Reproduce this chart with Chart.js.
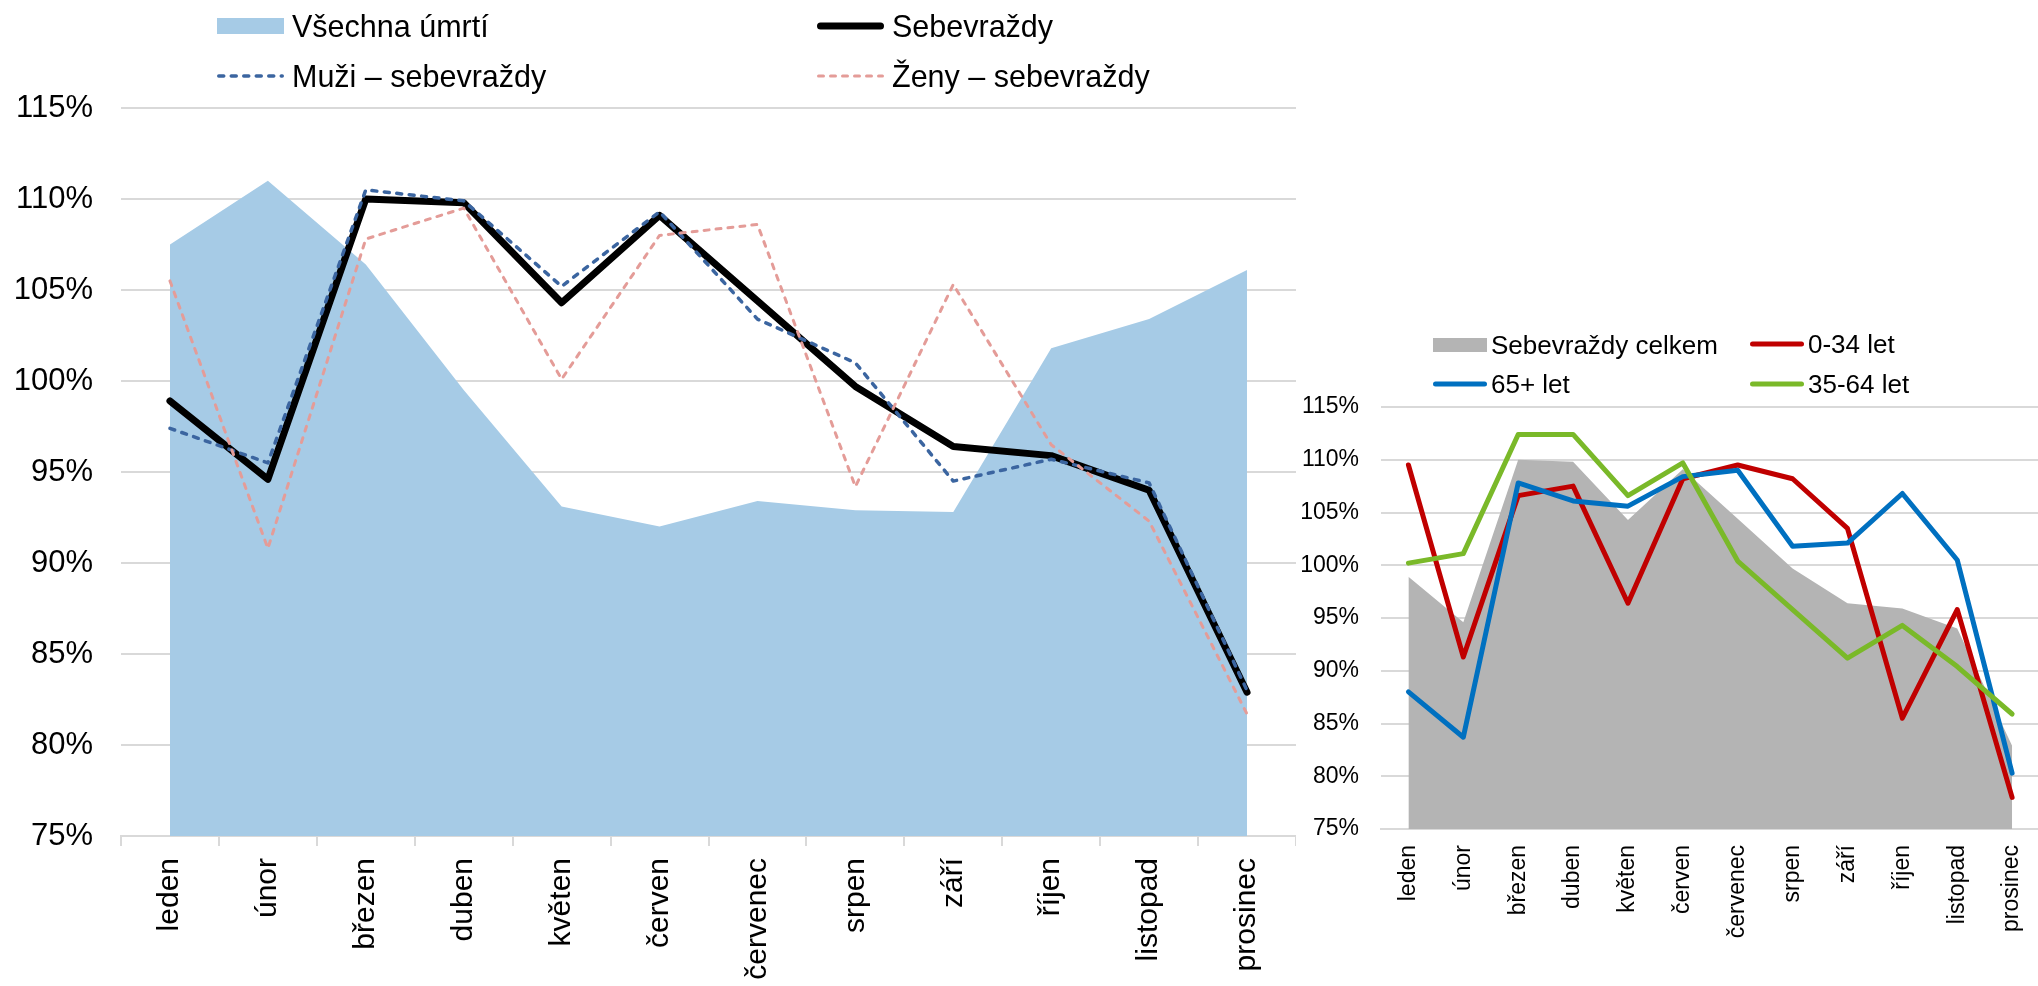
<!DOCTYPE html>
<html>
<head>
<meta charset="utf-8">
<script src="https://cdn.jsdelivr.net/npm/chart.js@4.4.1/dist/chart.umd.min.js"></script>
<style>
    html, body { margin: 0; padding: 0; background: #fff; width: 2038px; height: 986px; overflow: hidden; }
    body { position: relative; font-family: "Liberation Sans", Arial, sans-serif; color: #000; }
    canvas { position: absolute; top: 0; }
    #leftChart { left: 0; }
    #rightChart { left: 1296px; }
    .legend-item { position: absolute; display: flex; align-items: center; white-space: nowrap; }
    .legend-item svg { flex: none; display: block; }
</style>
</head>
<body>
<canvas id="leftChart" width="1296" height="986"></canvas>
<canvas id="rightChart" width="760" height="986"></canvas>
<div id="legends"></div>
<script>
// categories
const months = ['leden', 'únor', 'březen', 'duben', 'květen', 'červen', 'červenec', 'srpen', 'září', 'říjen', 'listopad', 'prosinec'];

// left chart series (% of monthly average)
const allDeaths = [107.5, 111.0, 106.4, 99.5, 93.1, 92.0, 93.4, 92.9, 92.8, 101.8, 103.4, 106.1];
const suicides = [98.9, 94.6, 110.0, 109.8, 104.3, 109.1, 104.4, 99.7, 96.4, 95.9, 94.0, 82.9];
const suicidesMen = [97.4, 95.5, 110.5, 109.9, 105.2, 109.3, 103.4, 101.0, 94.5, 95.7, 94.4, 83.0];
const suicidesWomen = [105.5, 90.8, 107.8, 109.5, 100.1, 108.0, 108.6, 94.2, 105.3, 96.5, 92.3, 81.7];

// right chart series by age group
const age0to34 = [109.5, 91.3, 106.6, 107.5, 96.4, 108.2, 109.5, 108.2, 103.5, 85.5, 95.8, 78.0];
const age65plus = [88.0, 83.7, 107.8, 106.1, 105.6, 108.4, 109.0, 101.8, 102.1, 106.8, 100.5, 80.3];
const age35to64 = [100.2, 101.1, 112.4, 112.4, 106.6, 109.7, 100.4, 95.8, 91.2, 94.3, 90.4, 85.9];

// value axis
const yMin = 75;
const yMax = 115;
const yStep = 5;

const FONT = '"Liberation Sans", Arial, sans-serif';
const GRID = '#d9d9d9';

function areaSet(label, data, color, order) {
    return {
        label: label, data: data, order: order,
        fill: 'start', backgroundColor: color, borderWidth: 0,
        pointRadius: 0, tension: 0,
        legendMark: { type: 'box', color: color }
    };
}

function lineSet(label, data, color, width, dash, order) {
    return {
        label: label, data: data, order: order,
        fill: false, borderColor: color, borderWidth: width,
        borderDash: dash || [], borderCapStyle: 'round', borderJoinStyle: 'round',
        pointRadius: 0, tension: 0,
        legendMark: { type: 'line', color: color, width: width, dash: dash }
    };
}

function makeOptions(cfg) {
    return {
        responsive: false,
        animation: false,
        events: [],
        layout: { padding: { top: cfg.top, left: 0, right: cfg.right, bottom: 0 } },
        plugins: { legend: { display: false }, tooltip: { enabled: false } },
        scales: {
            x: {
                offset: true,
                grid: {
                    offset: true, drawOnChartArea: false, drawTicks: cfg.xTicks,
                    tickLength: 10, tickColor: GRID, tickWidth: 2, color: GRID, lineWidth: 2
                },
                border: { display: true, color: GRID, width: 2 },
                ticks: {
                    autoSkip: false, minRotation: 90, maxRotation: 90,
                    padding: cfg.xPad, color: '#000',
                    font: { family: FONT, size: cfg.xFont }
                },
                afterFit: function (scale) { scale.height = cfg.xHeight; }
            },
            y: {
                min: yMin, max: yMax,
                grid: { color: GRID, lineWidth: 2, drawTicks: false },
                border: { display: false },
                ticks: {
                    stepSize: yStep, padding: cfg.yPad, color: '#000',
                    font: { family: FONT, size: cfg.yFont },
                    callback: function (v) { return v + '%'; }
                },
                afterFit: function (scale) { scale.width = cfg.yWidth; }
            }
        }
    };
}

const leftChart = new Chart(document.getElementById('leftChart'), {
    type: 'line',
    data: {
        labels: months,
        datasets: [
            areaSet('Všechna úmrtí', allDeaths, '#a6cbe6', 3),
            lineSet('Sebevraždy', suicides, '#000000', 7, null, 2),
            lineSet('Muži – sebevraždy', suicidesMen, '#3b65a0', 3.5, [5, 7.5], 1),
            lineSet('Ženy – sebevraždy', suicidesWomen, '#e49c98', 3, [5, 7], 0)
        ]
    },
    options: makeOptions({
        top: 108, right: 0, xTicks: true, xPad: 12, xFont: 30, xHeight: 150,
        yPad: 28, yFont: 31, yWidth: 121
    })
});

const rightChart = new Chart(document.getElementById('rightChart'), {
    type: 'line',
    data: {
        labels: months,
        datasets: [
            areaSet('Sebevraždy celkem', suicides, '#b4b4b4', 3),
            lineSet('0-34 let', age0to34, '#c00000', 5, null, 2),
            lineSet('65+ let', age65plus, '#0070c0', 5, null, 1),
            lineSet('35-64 let', age35to64, '#7ab929', 5, null, 0)
        ]
    },
    options: makeOptions({
        top: 407, right: 7, xTicks: false, xPad: 16, xFont: 23, xHeight: 157,
        yPad: 22, yFont: 23, yWidth: 85
    })
});

// HTML legends, two columns, laid out like the original
function markSvg(mark, w, h) {
    if (mark.type === 'box') {
        return '<svg width="' + w + '" height="' + h + '"><rect x="0" y="0" width="' + w + '" height="' + h + '" fill="' + mark.color + '"/></svg>';
    }
    const sw = mark.width;
    const hh = Math.max(h, sw + 2);
    const dash = mark.dash ? ' stroke-dasharray="' + mark.dash.join(' ') + '"' : '';
    return '<svg width="' + w + '" height="' + hh + '"><line x1="' + (sw / 2) + '" y1="' + (hh / 2) + '" x2="' + (w - sw / 2) +
        '" y2="' + (hh / 2) + '" stroke="' + mark.color + '" stroke-width="' + sw + '" stroke-linecap="round"' + dash + '/></svg>';
}

function buildLegend(chart, spots, font, markW, boxH, gap) {
    const host = document.getElementById('legends');
    chart.data.datasets.forEach(function (ds, i) {
        const spot = spots[i];
        const item = document.createElement('div');
        item.className = 'legend-item';
        item.style.left = spot[0] + 'px';
        item.style.top = (spot[1] - 25) + 'px';
        item.style.height = '50px';
        item.style.fontSize = font + 'px';
        item.innerHTML = markSvg(ds.legendMark, markW, boxH) +
            '<span style="margin-left:' + gap + 'px">' + ds.label + '</span>';
        host.appendChild(item);
    });
}

buildLegend(leftChart, [[217, 26], [817, 26], [217, 76], [817, 76]], 30.5, 67, 16, 8);
buildLegend(rightChart, [[1433, 345], [1750, 344], [1433, 384], [1750, 384]], 26, 54, 14, 4);
</script>
</body>
</html>
